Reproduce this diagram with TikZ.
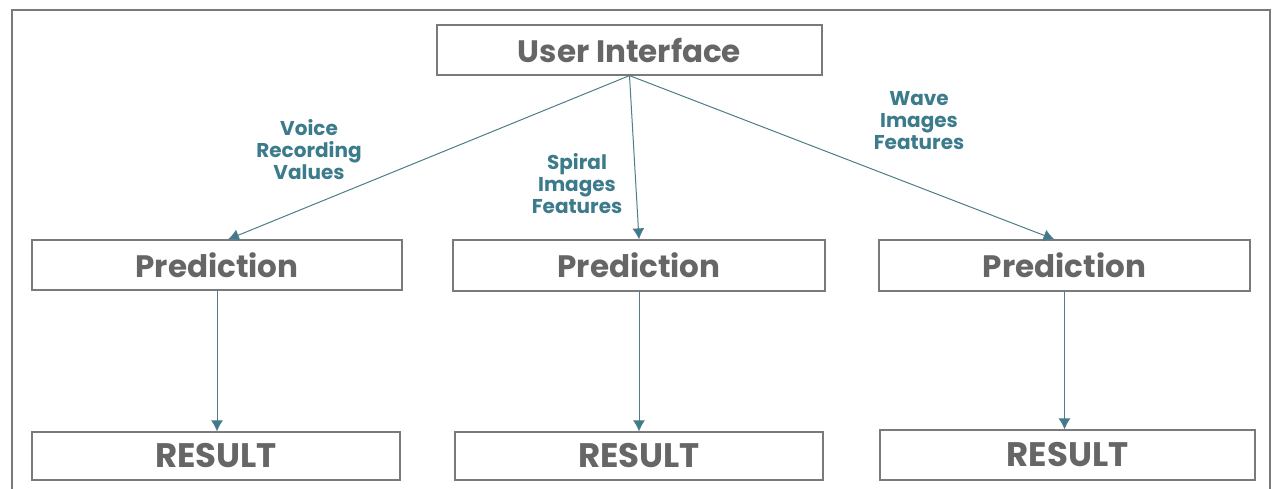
\documentclass[tikz,border=0pt]{standalone}
\usepackage{fontspec}
\setmainfont{Poppins}
\usetikzlibrary{arrows.meta}
\definecolor{boxgray}{HTML}{7A7A7A}
\definecolor{txtgray}{HTML}{666666}
\definecolor{teal}{HTML}{3C7B8B}
\begin{document}
\begin{tikzpicture}[x=1pt, y=-1pt,
    box/.style={draw=boxgray, line width=1.2pt, inner sep=0pt, text=txtgray,
        font=\fontsize{31}{36}\selectfont\bfseries},
    resbox/.style={box, font=\fontsize{34}{38}\selectfont\bfseries},
    lbl/.style={text=teal, align=center, font=\fontsize{20}{22}\selectfont\bfseries},
    flow/.style={draw=teal!70!gray, line width=1pt, -{Latex[length=11pt,width=12pt,fill=teal]}}]
\useasboundingbox (0,0) rectangle (1274,489);
\draw[boxgray, line width=2.5pt] (12,489)--(12,10)--(1270,10)--(1270,489);
\node[box, minimum width=385, minimum height=50] (ui) at (629.5,50) {User Interface};
\node[box, minimum width=370, minimum height=50] (predA) at (217,265) {Prediction};
\node[box, minimum width=372, minimum height=51] (predB) at (639,265.5) {Prediction};
\node[box, minimum width=371, minimum height=51] (predC) at (1064.5,265.5) {Prediction};
\node[resbox, minimum width=368, minimum height=48] (resA) at (216,456) {RESULT};
\node[resbox, minimum width=368, minimum height=48] (resB) at (639,456) {RESULT};
\node[resbox, minimum width=375, minimum height=50] (resC) at (1067.5,455) {RESULT};
% labels
\node[lbl] (voice) at (309,150) {Voice\\Recording\\Values};
\node[lbl] (spiral) at (577,184) {Spiral\\Images\\Features};
\node[lbl] (wave) at (919,121) {Wave\\Images\\Features};
\draw[flow] (ui.south)--([xshift=11]predA.north);
\draw[flow] (ui.south)--(predB.north);
\draw[flow] (ui.south)--([xshift=-10]predC.north);
\draw[flow] (predA.south)--(predA.south |- resA.north);
\draw[flow] (predB.south)--(predB.south |- resB.north);
\draw[flow] (predC.south)--(predC.south |- resC.north);
\end{tikzpicture}
\end{document}
